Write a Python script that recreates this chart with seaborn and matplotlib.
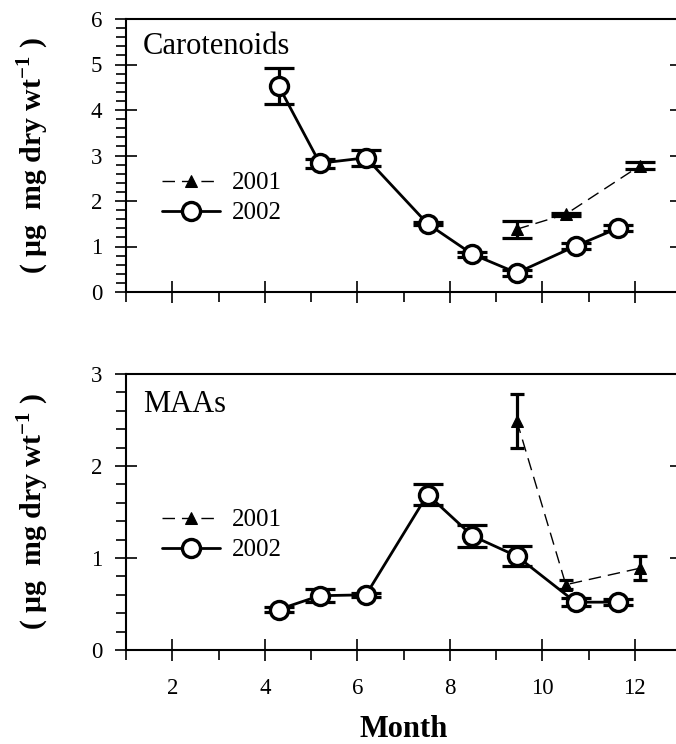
import matplotlib
matplotlib.use("Agg")
import matplotlib.pyplot as plt
import seaborn as sns
import pandas as pd
from matplotlib.ticker import MultipleLocator

# ---------------- data ----------------
months_2002 = [4.30, 5.19, 6.19, 7.52, 8.49, 9.45, 10.72, 11.63]
months_2001 = [9.45, 10.51, 12.12]

car_2002 = [4.53, 2.83, 2.95, 1.50, 0.83, 0.42, 1.01, 1.40]
car_2002_err = [0.39, 0.10, 0.18, 0.03, 0.05, 0.07, 0.07, 0.07]
car_2001 = [1.38, 1.71, 2.78]
car_2001_err = [0.19, 0.03, 0.07]

maa_2002 = [0.44, 0.59, 0.60, 1.69, 1.24, 1.02, 0.52, 0.52]
maa_2002_err = [0.03, 0.07, 0.02, 0.11, 0.12, 0.11, 0.04, 0.03]
maa_2001 = [2.49, 0.71, 0.89]
maa_2001_err = [0.29, 0.05, 0.13]

panel_titles = ["Carotenoids", "MAAs"]
y_limits = [6, 3]
x_ticks = [2, 4, 6, 8, 10, 12]

sns.set_theme(style="white")
plt.rcParams["font.family"] = ["Liberation Serif", "DejaVu Serif"]
plt.rcParams["mathtext.fontset"] = "custom"
plt.rcParams["mathtext.rm"] = "Liberation Serif"
plt.rcParams["mathtext.bf"] = "Liberation Serif:bold"
plt.rcParams["text.color"] = "black"
plt.rcParams["axes.labelcolor"] = "black"

fig = plt.figure(figsize=(6.76, 7.44), dpi=100)
W, H = 676.0, 744.0
def axes_px(left, top, right, bottom):
    return fig.add_axes([left / W, 1 - bottom / H, (right - left) / W, (bottom - top) / H])

ax_top = axes_px(126, 19, 681, 292)
ax_bot = axes_px(126, 374, 681, 650)

panels = [
    (ax_top, car_2002, car_2002_err, car_2001, car_2001_err, 11, 11),
    (ax_bot, maa_2002, maa_2002_err, maa_2001, maa_2001_err, 5, 11),
]

for i, (ax, y02, e02, y01, e01, cap01, cap02) in enumerate(panels):
    d02 = pd.DataFrame({"Month": months_2002, "val": y02})
    d01 = pd.DataFrame({"Month": months_2001, "val": y01})

    # error bars
    ax.errorbar(months_2002, y02, yerr=e02, fmt="none", ecolor="black",
                elinewidth=2.3, capsize=cap02, capthick=2.3, zorder=2)
    ax.errorbar(months_2001, y01, yerr=e01, fmt="none", ecolor="black",
                elinewidth=2.3, capsize=cap01, capthick=2.3, zorder=2)

    sns.lineplot(data=d01, x="Month", y="val", ax=ax, color="black",
                 linewidth=1.0, marker="^", markersize=9, markerfacecolor="black",
                 markeredgecolor="black", dashes=False, label="2001", zorder=3,
                 sort=False)
    ax.lines[-1].set_dashes([9, 5])
    sns.lineplot(data=d02, x="Month", y="val", ax=ax, color="black",
                 linewidth=2.0, marker="o", markersize=13, markerfacecolor="white",
                 markeredgecolor="black", markeredgewidth=2.4, label="2002",
                 zorder=4, sort=False)

    ax.set_xlim(1, 13)
    ax.set_ylim(0, y_limits[i])
    ax.set_xticks(x_ticks)
    ax.xaxis.set_minor_locator(MultipleLocator(1))
    ax.yaxis.set_major_locator(MultipleLocator(1))
    ax.yaxis.set_minor_locator(MultipleLocator(0.2))

    for s in ax.spines.values():
        s.set_visible(True)
        s.set_color("black")
        s.set_linewidth(1.5)

    ax.tick_params(axis="both", which="both", bottom=True, left=True,
                   top=False, colors="black")
    ax.tick_params(axis="both", which="major", direction="inout", length=16,
                   width=1.2, labelsize=16.5, labelcolor="black")
    ax.tick_params(axis="both", which="minor", direction="out", length=7,
                   width=1.2)
    ax.tick_params(axis="y", which="major", right=True, labelright=False, pad=9)
    ax.tick_params(axis="y", which="minor", right=False)
    ax.tick_params(axis="x", which="major", pad=12)
    if i == 0:
        ax.tick_params(axis="x", labelbottom=False)

    ax.set_xlabel("")
    ax.set_ylabel(r"( $\mathbf{\mu}$g  mg dry wt$^{\mathbf{-1}}$ )",
                  fontsize=21.5, fontweight="bold", color="black")
    ax.yaxis.set_label_coords(-0.135, 0.5)

    ty = [47, 404][i]
    fig.text(143 / W, 1 - ty / H, panel_titles[i], fontsize=22, va="center",
             color="black")

    leg_y = [198, 535][i]
    leg = ax.legend(loc="center left", bbox_to_anchor=(162 / W, 1 - leg_y / H),
                    bbox_transform=fig.transFigure, frameon=False, fontsize=18,
                    handlelength=2.3, handletextpad=0.5, labelspacing=0.3,
                    borderaxespad=0, borderpad=0)
    for t in leg.get_texts():
        t.set_color("black")

ax_bot.set_xlabel("Month", fontsize=22, fontweight="bold", labelpad=12)

fig.savefig("out.png", dpi=100)
